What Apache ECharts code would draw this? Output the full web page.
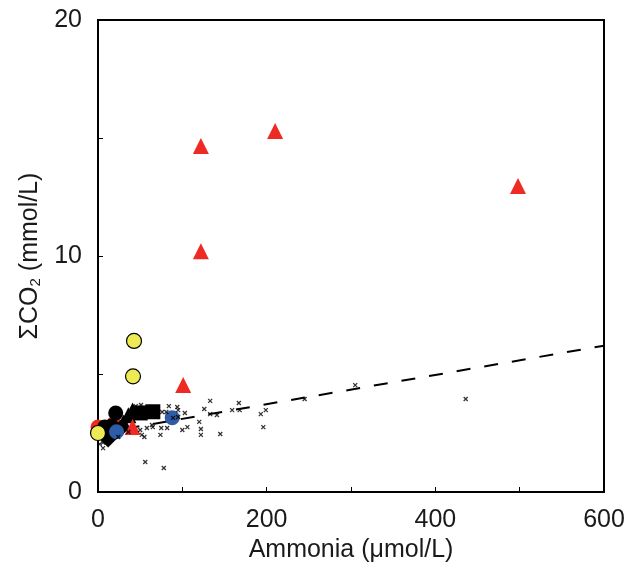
<!DOCTYPE html>
<html>
<head>
<meta charset="utf-8">
<script src="https://cdn.jsdelivr.net/npm/echarts@6/dist/echarts.min.js"></script>
<style>
  html, body { margin: 0; padding: 0; background: #fff; }
  #main { width: 625px; height: 566px; }
</style>
</head>
<body>
<div id="main"></div>
<script>
// values: [ammonia umol/L, sum CO2 mmol/L]
let redTriangles = [[122, 14.66], [210, 15.3], [498, 12.97], [122, 10.2], [101, 4.53], [41, 2.75]]
let redCircles = [[0, 2.75], [19, 2.9]]
let yellowCircles = [[42.7, 6.4], [41.5, 4.9], [0, 2.5]]
let blackCircles = [[21, 3.35], [8, 2.75], [10, 2.45], [16, 2.8]]
let blackTriangles = [[30, 2.95], [36, 3.25], [41, 3.45]]
let blackSquares = [[50, 3.35], [65, 3.4]]
let blackDiamonds = [[12, 2.25], [27, 2.7]]
let blueCircles = [[88, 3.15], [22, 2.55]]
let smallCrosses = [
    [44.7, 3.64], [51, 3.69], [84, 3.64], [94, 3.6], [95, 3.47], [76, 3.39], [81, 3.39],
    [89, 3.14], [95, 3.18], [103, 3.35], [126, 3.52], [133, 3.86], [133, 3.3], [141, 3.26],
    [159, 3.47], [167, 3.77], [168, 3.47], [193, 3.3], [199, 3.47], [196, 2.75], [145, 2.46],
    [122, 2.67], [122, 2.42], [120, 2.97], [106, 2.75], [100, 2.63], [82, 2.71], [75, 2.71],
    [74, 2.42], [65, 2.75], [58, 2.71], [52, 2.42], [55, 2.33], [36, 2.54], [50, 2.63],
    [24, 2.33], [6, 1.86], [2, 2.03], [56, 1.27], [78, 1.02], [64, 2.84], [245, 3.94],
    [305, 4.53], [436, 3.94], [6, 2.1]
]
let trendLine = [[0, 2.48], [600, 6.2]]
let xTicks = [0, 200, 400, 600]
let yTicks = [0, 10, 20]

let chart = echarts.init(document.getElementById('main'))
let font = 'Liberation Sans, Arial, sans-serif'

function dots(data, symbol, size, color, border) {
    return {
        type: 'scatter',
        data: data,
        symbol: symbol,
        symbolSize: size,
        itemStyle: { color: color, borderColor: border || color, borderWidth: border ? 1.2 : 0, opacity: 1 },
        emphasis: { disabled: true },
        silent: true,
    }
}

chart.setOption({
    animation: false,
    grid: {
        left: 98, right: 21, top: 20, bottom: 74,
        outerBoundsMode: 'none',
        show: true, borderColor: '#000', borderWidth: 2,
    },
    xAxis: {
        type: 'value',
        min: 0,
        max: 600,
        interval: 100,
        name: 'Ammonia (\u03bcmol/L)',
        nameLocation: 'middle',
        nameGap: 45,
        nameTextStyle: { color: '#1a1a1a', fontSize: 25, fontFamily: font },
        axisLine: { lineStyle: { color: '#000', width: 2 } },
        axisTick: { inside: true, length: 5, lineStyle: { color: '#000' } },
        axisLabel: {
            color: '#1a1a1a', fontSize: 25, fontFamily: font, margin: 16,
            formatter: v => xTicks.indexOf(v) >= 0 ? String(v) : '',
        },
        splitLine: { show: false },
    },
    yAxis: {
        type: 'value',
        min: 0,
        max: 20,
        interval: 5,
        name: '{a|\u03a3CO}{s|2}{a| (mmol/L)}',
        nameLocation: 'middle',
        nameGap: 52,
        nameTextStyle: {
            rich: {
                a: { color: '#1a1a1a', fontSize: 25, fontFamily: font },
                s: { color: '#1a1a1a', fontSize: 15, fontFamily: font, padding: [12, 0, 0, 0] },
            },
        },
        axisLine: { lineStyle: { color: '#000', width: 2 } },
        axisTick: { inside: true, length: 5, lineStyle: { color: '#000' } },
        axisLabel: {
            color: '#1a1a1a', fontSize: 25, fontFamily: font, margin: 16,
            formatter: v => yTicks.indexOf(v) >= 0 ? String(v) : '',
        },
        splitLine: { show: false },
    },
    series: [
        {
            type: 'line',
            data: trendLine,
            symbol: 'none',
            lineStyle: { color: '#000', width: 2, type: [14, 14] },
            silent: true,
            z: 1,
        },
        dots(redCircles, 'circle', 15, '#ee2a24'),
        dots(blackCircles, 'circle', 15, '#000'),
        dots(blackDiamonds, 'diamond', 17, '#000'),
        dots(blackTriangles, 'triangle', 16, '#000'),
        dots(blackSquares, 'rect', 15, '#000'),
        dots(blueCircles, 'circle', 15, '#2f5ca6'),
        dots(yellowCircles, 'circle', 15, '#eeea55', '#000'),
        dots(redTriangles, 'triangle', 16, '#ee2a24'),
        {
            type: 'scatter',
            data: smallCrosses,
            symbol: 'path://M0,0L10,10M10,0L0,10',
            symbolSize: 4,
            itemStyle: { color: 'none', borderColor: '#000', borderWidth: 1.3 },
            silent: true,
            z: 5,
        },
    ],
})
</script>
</body>
</html>
